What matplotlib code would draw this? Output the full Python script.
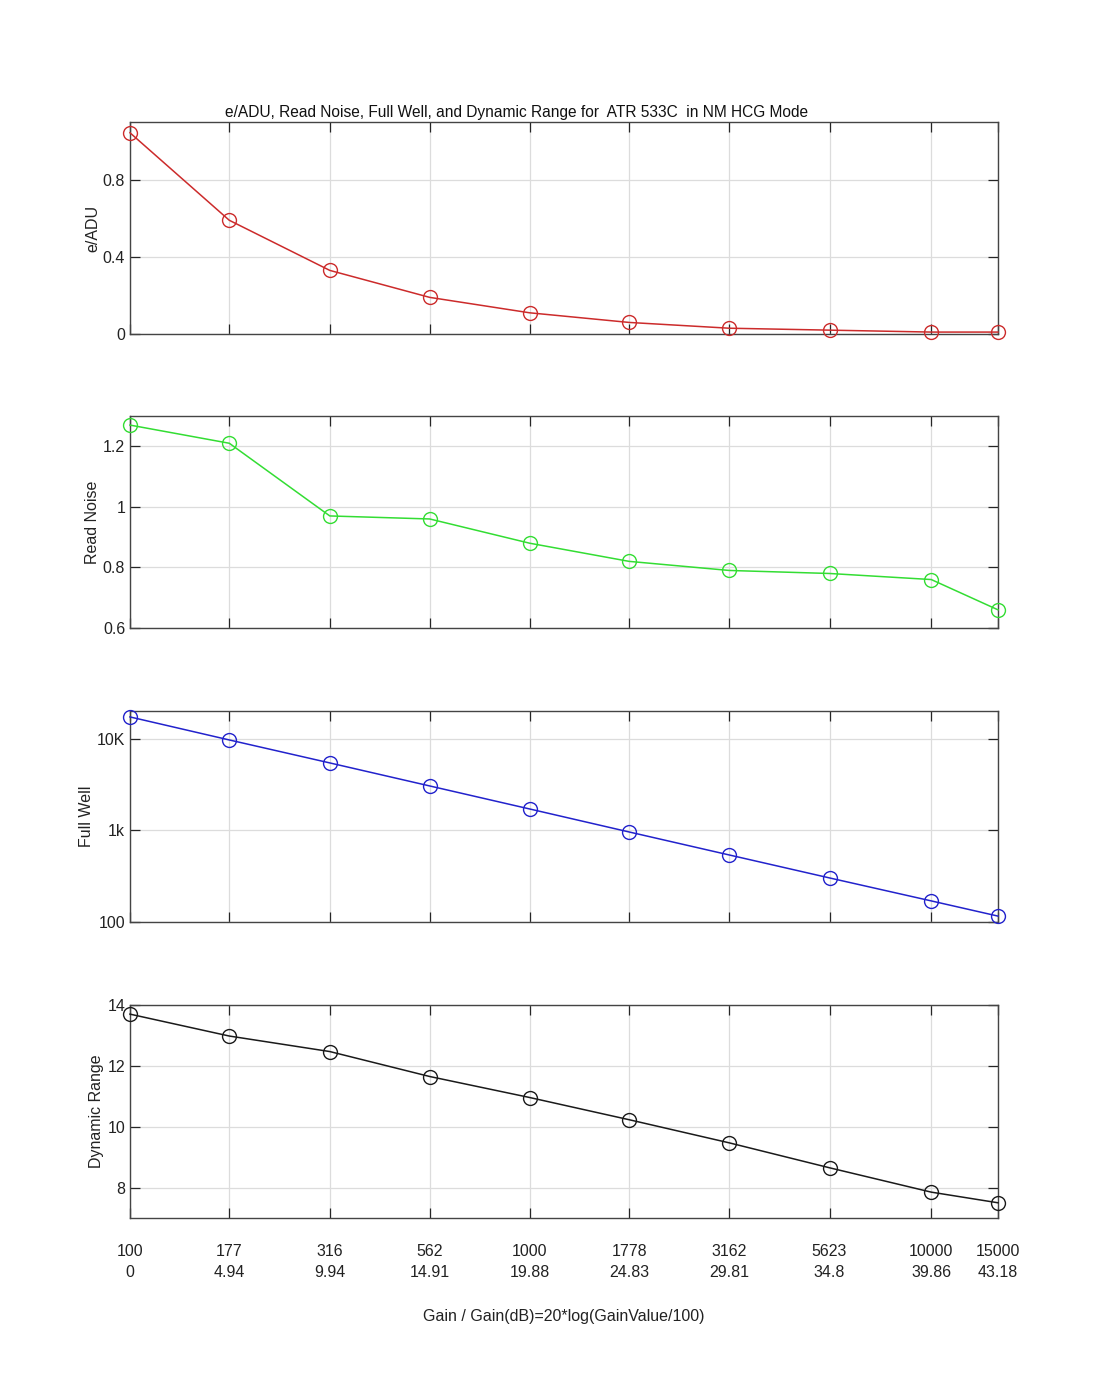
import matplotlib
matplotlib.use("Agg")
import matplotlib.pyplot as plt
from matplotlib.ticker import FixedLocator, FixedFormatter

plt.rcParams['font.family'] = ['Liberation Sans', 'DejaVu Sans']

gain_labels = ["100", "177", "316", "562", "1000", "1778", "3162", "5623", "10000", "15000"]
gain_db = [0, 4.94, 9.94, 14.91, 19.88, 24.83, 29.81, 34.8, 39.86, 43.18]

e_adu = [1.044, 0.59, 0.33, 0.19, 0.11, 0.06, 0.03, 0.02, 0.01, 0.01]
read_noise = [1.27, 1.21, 0.97, 0.96, 0.88, 0.82, 0.79, 0.78, 0.76, 0.66]
full_well = [17400, 9750, 5470, 3065, 1718, 963, 540, 303, 170, 116]
dynamic_range = [13.70, 12.98, 12.47, 11.65, 10.96, 10.23, 9.47, 8.65, 7.85, 7.50]

title = "e/ADU, Read Noise, Full Well, and Dynamic Range for  ATR 533C  in NM HCG Mode"
xlabel = "Gain / Gain(dB)=20*log(GainValue/100)"

fig = plt.figure(figsize=(11.2, 14), dpi=100)
left = 130 / 1120
width = 868 / 1120
boxes = [(334, 212), (628, 212), (922, 211), (1218, 213)]

specs = [
    (e_adu, "#CC2B2B", "e/ADU", (0, 1.1), [0, 0.4, 0.8], ["0", "0.4", "0.8"], False),
    (read_noise, "#33DD33", "Read Noise", (0.6, 1.3), [0.6, 0.8, 1.0, 1.2], ["0.6", "0.8", "1", "1.2"], False),
    (full_well, "#2222CC", "Full Well", (100, 20200), [100, 1000, 10000], ["100", "1k", "10K"], True),
    (dynamic_range, "#1A1A1A", "Dynamic Range", (7, 14), [8, 10, 12, 14], ["8", "10", "12", "14"], False),
]

axes = []
for (bot, h), (vals, col, lab, ylim, yt, ytl, logy) in zip(boxes, specs):
    ax = fig.add_axes([left, (1400 - bot) / 1400, width, h / 1400])
    if logy:
        ax.set_yscale('log')
    ax.plot(gain_db, vals, color=col, lw=1.1, marker='o', ms=10, mfc='none',
            mec=col, mew=1.0, clip_on=False, zorder=3)
    ax.set_xlim(0, 43.18)
    ax.set_ylim(*ylim)
    ax.yaxis.set_major_locator(FixedLocator(yt))
    ax.yaxis.set_major_formatter(FixedFormatter(ytl))
    ax.yaxis.set_minor_locator(FixedLocator([]))
    ax.set_xticks(gain_db)
    ax.set_xticklabels([])
    ax.grid(True, color='#DCDCDC', lw=0.9)
    ax.set_axisbelow(True)
    ax.tick_params(direction='in', top=True, right=True, length=7, width=0.9,
                   colors='#262626', labelsize=11.5, labelcolor='#222222')
    for s in ax.spines.values():
        s.set_color('#444444')
        s.set_linewidth(1.0)
    ax.set_ylabel(lab, fontsize=11.5, color='#222222', labelpad=2)
    axes.append(ax)

fig.text(517 / 1120, 1 - 112 / 1400, title, fontsize=11.2, color='#111111',
         ha='center', va='center')

bottom_ax = axes[-1]
bottom_ax.set_xticklabels([f"{g}\n{d:g}" for g, d in zip(gain_labels, gain_db)],
                          fontsize=11.5, linespacing=1.45,
                          family=['Liberation Sans Narrow', 'Liberation Sans', 'DejaVu Sans'])
bottom_ax.tick_params(axis='x', pad=19)
bottom_ax.set_xlabel(xlabel, fontsize=11.5, color='#222222', labelpad=21,
                     family=['Liberation Sans Narrow', 'Liberation Sans', 'DejaVu Sans'])

fig.savefig("out.png", dpi=100, facecolor='white')
